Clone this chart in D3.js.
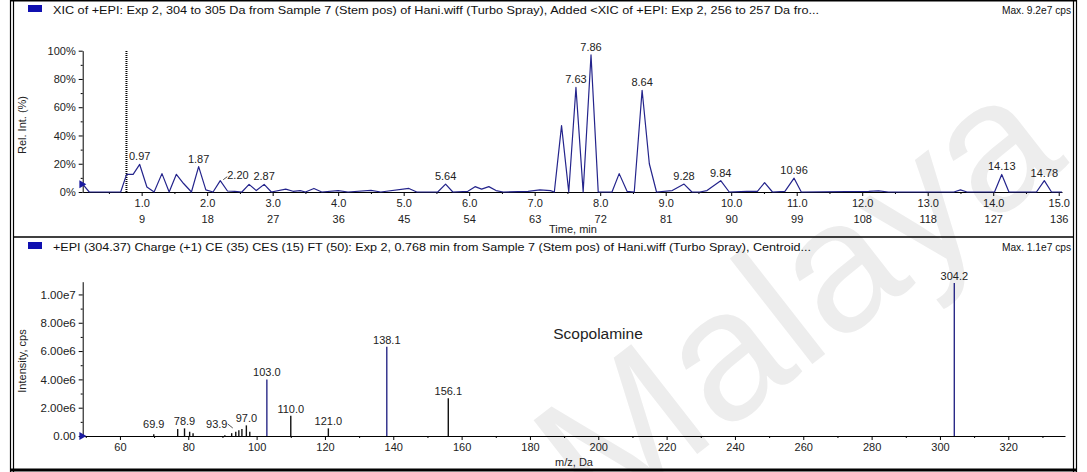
<!DOCTYPE html>
<html><head><meta charset="utf-8">
<script src="https://cdn.jsdelivr.net/npm/d3@7"></script>
<style>
html,body{margin:0;padding:0;background:#fff;}
svg{display:block;font-family:"Liberation Sans",Arial,sans-serif;}
</style></head>
<body><svg id="c" width="1087" height="472"></svg>
<script>
// ---- XIC data (time, min ; relative intensity, %) ----
const xicTime = [0.10,0.20,0.68,0.77,0.87,0.97,1.08,1.19,1.31,1.42,1.53,1.64,1.76,1.87,1.98,2.09,2.20,2.31,2.42,2.53,2.64,2.75,2.87,2.98,3.20,3.31,3.42,3.50,3.63,3.75,4.00,4.15,4.50,4.65,5.08,5.20,5.52,5.64,5.75,5.98,6.09,6.19,6.30,6.41,6.52,6.90,7.08,7.24,7.30,7.41,7.52,7.63,7.74,7.86,7.97,8.18,8.29,8.41,8.52,8.64,8.75,8.86,9.10,9.28,9.40,9.52,9.63,9.84,9.97,10.24,10.40,10.51,10.63,10.82,10.96,11.07,12.10,12.25,12.40,13.40,13.50,13.60,14.02,14.13,14.24,14.66,14.78,14.89,15.05];
const xicRel  = [5.5,0,0,12.5,12.5,19.5,3.5,0,13,0,12.5,6,0,18,1.5,0,8,0.7,0.5,0,5.4,1,5.4,0,2,0.5,1,0,2.5,0,1,0,1.2,0,2.5,0,0,5.6,0,0.5,3.8,2,3.8,1,0,0.5,1.5,1,0,47,0,74,0,97,0,0,13,0.5,0,72,20,0,1,5.6,0,0,1,8,0,0.5,0.5,6.6,0,0.5,9.8,0,0.5,0.8,0,0,1.5,0,0,12.4,0,0,8,0,0];
const xicPeakLabels = [0.97,1.87,2.20,2.87,5.64,7.63,7.86,8.64,9.28,9.84,10.96,14.13,14.78];
const selectedTime = 0.768;
const timeTicks = [1,2,3,4,5,6,7,8,9,10,11,12,13,14,15];
const scanLabels = [9,18,27,36,45,54,63,72,81,90,99,108,118,127,136];
const relTicks = [0,20,40,60,80,100];

// ---- Spectrum data (m/z, Da ; intensity, cps) ----
const specMz  = [69.9,76.9,78.9,80.4,81.4,90.7,92.7,93.9,94.8,95.7,97.0,98.0,103.0,110.0,121.0,138.1,156.1,304.2];
const specInt = [0.12e6,0.49e6,0.54e6,0.30e6,0.20e6,0.05e6,0.20e6,0.30e6,0.40e6,0.50e6,0.75e6,0.30e6,4.0e6,1.43e6,0.54e6,6.3e6,2.66e6,1.08e7];
const specLabels = [69.9,78.9,93.9,97.0,103.0,110.0,121.0,138.1,156.1,304.2];
const mzTicks = [60,80,100,120,140,160,180,200,220,240,260,280,300,320];
const intTicks = [0,2e6,4e6,6e6,8e6,1e7];

const topTitle = "XIC of +EPI: Exp 2, 304 to 305 Da from Sample 7 (Stem pos) of Hani.wiff (Turbo Spray), Added <XIC of +EPI: Exp 2, 256 to 257 Da fro...";
const topMax = "Max. 9.2e7 cps";
const botTitle = "+EPI (304.37) Charge (+1) CE (35) CES (15) FT (50): Exp 2, 0.768 min from Sample 7 (Stem pos) of Hani.wiff (Turbo Spray), Centroid...";
const botMax = "Max. 1.1e7 cps";
const compound = "Scopolamine";

const svg = d3.select("#c");
const ink = "#222";
const lineBlue = "#24248c";
const FS = 11;

// watermark
svg.append("text").attr("transform","translate(600,530) rotate(-38)")
  .attr("font-size",185).attr("fill","#ededed").text("Malaya");

// ---------- frame ----------
const fr = svg.append("g").attr("stroke","#000").attr("fill","none");
fr.append("line").attr("x1",10.5).attr("x2",10.5).attr("y1",0).attr("y2",472).attr("stroke-width",1.2);
fr.append("line").attr("x1",13.5).attr("x2",13.5).attr("y1",0).attr("y2",472).attr("stroke-width",1.2);
fr.append("line").attr("x1",1073.5).attr("x2",1073.5).attr("y1",0).attr("y2",472).attr("stroke-width",1.2);
fr.append("line").attr("x1",1076.5).attr("x2",1076.5).attr("y1",0).attr("y2",472).attr("stroke-width",1.2);
fr.append("line").attr("x1",10).attr("x2",1077).attr("y1",0.7).attr("y2",0.7).attr("stroke-width",1.4);
fr.append("line").attr("x1",10).attr("x2",1077).attr("y1",470).attr("y2",470).attr("stroke-width",3);
fr.append("line").attr("x1",13).attr("x2",1074).attr("y1",237).attr("y2",237).attr("stroke-width",1.5);

// ---------- headers ----------
function header(y, title, titleLen, maxTxt){
  svg.append("rect").attr("x",28).attr("y",y-9).attr("width",14).attr("height",7).attr("fill","#1010b0");
  svg.append("text").attr("x",53).attr("y",y).attr("font-size",11.5).attr("fill","#111")
    .attr("textLength",titleLen).attr("lengthAdjust","spacingAndGlyphs").text(title);
  svg.append("text").attr("x",1071).attr("y",y).attr("text-anchor","end").attr("font-size",10.2).attr("fill","#111").text(maxTxt);
}
header(14, topTitle, 766, topMax);
header(251, botTitle, 758, botMax);

// ---------- top XIC chart ----------
const xT = d3.scaleLinear().domain([0.10,15.05]).range([82.7,1062]);
const yT = d3.scaleLinear().domain([0,100]).range([192,50.7]);

const gxT = svg.append("g").attr("transform","translate(0,192)")
  .call(d3.axisBottom(xT).tickValues(timeTicks).tickSize(4).tickSizeOuter(0).tickFormat(d3.format(".1f")));
const minorT = d3.range(0.5,15.01,1);
svg.append("g").attr("transform","translate(0,192)")
  .call(d3.axisBottom(xT).tickValues(minorT).tickSize(2).tickSizeOuter(0).tickFormat(""))
  .select(".domain").remove();
gxT.selectAll(".tick").append("text").attr("y",23.5).attr("dy","0.71em").attr("fill",ink)
  .text((d,i)=>scanLabels[i]);
svg.append("g").attr("transform","translate(82.7,0)")
  .call(d3.axisLeft(yT).tickValues(relTicks).tickSize(4).tickSizeOuter(0).tickFormat(d=>d+"%"));
svg.append("g").attr("transform","translate(82.7,0)")
  .call(d3.axisLeft(yT).tickValues([10,30,50,70,90]).tickSize(2).tickSizeOuter(0).tickFormat(""))
  .select(".domain").remove();

svg.append("text").attr("x",573).attr("y",233).attr("text-anchor","middle").attr("font-size",FS).attr("fill",ink).text("Time, min");
svg.append("text").attr("transform","translate(26,125) rotate(-90)").attr("text-anchor","middle").attr("font-size",FS).attr("fill",ink).text("Rel. Int. (%)");

// selected time dotted line
svg.append("line").attr("x1",xT(selectedTime)).attr("x2",xT(selectedTime))
  .attr("y1",yT(0)).attr("y2",yT(100)).attr("stroke","#000").attr("stroke-width",2).attr("stroke-dasharray","1,1");

// trace
const xicData = xicTime.map((t,i)=>[t,xicRel[i]]);
svg.append("path").datum(xicData).attr("fill","none").attr("stroke",lineBlue).attr("stroke-width",1.2)
  .attr("stroke-linejoin","round")
  .attr("d", d3.line().x(d=>xT(d[0])).y(d=>yT(d[1])));
svg.append("path").attr("d",d3.symbol(d3.symbolTriangle,28)()).attr("fill","#1a1aa0")
  .attr("transform",`translate(${xT(xicTime[0])-1},${yT(xicRel[0])}) rotate(90)`);

// peak labels
xicPeakLabels.forEach(t=>{
  const i = d3.minIndex(xicTime, v=>Math.abs(v-t));
  const px = xT(t), py = yT(xicRel[i]);
  if (Math.abs(t-2.20)<1e-6){
    svg.append("line").attr("x1",px+3).attr("y1",py-1).attr("x2",px+7).attr("y2",py-4).attr("stroke",ink).attr("stroke-width",0.8);
    svg.append("text").attr("x",px+7).attr("y",py-2).attr("font-size",FS).attr("fill",ink).text(t.toFixed(2));
  } else {
    svg.append("text").attr("x",px).attr("y",py-4).attr("text-anchor","middle").attr("font-size",FS).attr("fill",ink).text(t.toFixed(2));
  }
});

// ---------- bottom spectrum ----------
const xB = d3.scaleLinear().domain([49.1,336.6]).range([82.7,1065]);
const yB = d3.scaleLinear().domain([0,1.09e7]).range([436,281.7]);

svg.append("g").attr("transform","translate(0,436)")
  .call(d3.axisBottom(xB).tickValues(mzTicks).tickSize(4).tickSizeOuter(0).tickFormat(d3.format("d")));
svg.append("g").attr("transform","translate(0,436)")
  .call(d3.axisBottom(xB).tickValues(d3.range(50,331,20)).tickSize(2).tickSizeOuter(0).tickFormat(""))
  .select(".domain").remove();
svg.append("g").attr("class","yb").attr("transform","translate(82.7,0)")
  .call(d3.axisLeft(yB).tickValues(intTicks).tickSize(4).tickSizeOuter(0)
    .tickFormat(d=> d===0 ? "0.00" : d3.format(".2e")(d).replace("e+","e")));
svg.append("g").attr("transform","translate(82.7,0)")
  .call(d3.axisLeft(yB).tickValues([1e6,3e6,5e6,7e6,9e6]).tickSize(2).tickSizeOuter(0).tickFormat(""))
  .select(".domain").remove();

svg.append("text").attr("x",574).attr("y",466).attr("text-anchor","middle").attr("font-size",FS).attr("fill",ink).text("m/z, Da");
svg.append("text").attr("transform","translate(26,361) rotate(-90)").attr("text-anchor","middle").attr("font-size",FS).attr("fill",ink).text("Intensity, cps");

svg.append("g").selectAll("line").data(specMz).join("line")
  .attr("x1",d=>xB(d)).attr("x2",d=>xB(d))
  .attr("y1",yB(0)).attr("y2",(d,i)=>yB(specInt[i]))
  .attr("stroke",(d,i)=>specInt[i]>3e6?"#2a2a88":"#111").attr("stroke-width",1.4);

svg.append("path").attr("d",d3.symbol(d3.symbolTriangle,28)()).attr("fill","#1a1aa0")
  .attr("transform",`translate(${xB(49.1)-1},${yB(0)}) rotate(90)`);

specLabels.forEach(m=>{
  const i = d3.minIndex(specMz, v=>Math.abs(v-m));
  const px = xB(m), py = Math.min(yB(specInt[i])-3, 428);
  if (Math.abs(m-93.9)<1e-6){
    svg.append("text").attr("x",px-19).attr("y",py).attr("text-anchor","middle").attr("font-size",FS).attr("fill",ink).text(m.toFixed(1));
    svg.append("line").attr("x1",px-8).attr("y1",py-4).attr("x2",px-3).attr("y2",py).attr("stroke",ink).attr("stroke-width",0.8);
  } else {
    svg.append("text").attr("x",px).attr("y",py).attr("text-anchor","middle").attr("font-size",FS).attr("fill",ink).text(m.toFixed(1));
  }
});

svg.append("text").attr("x",598).attr("y",339).attr("text-anchor","middle").attr("font-size",15.5).attr("fill","#222").text(compound);

// axis styling
svg.selectAll(".tick text").attr("font-size",FS).attr("fill",ink).attr("font-family","Liberation Sans, Arial, sans-serif");
svg.selectAll(".yb .tick text").attr("font-size",11.5);
svg.selectAll(".domain").attr("stroke","#000");
svg.selectAll(".tick line").attr("stroke","#000");
</script></body></html>
